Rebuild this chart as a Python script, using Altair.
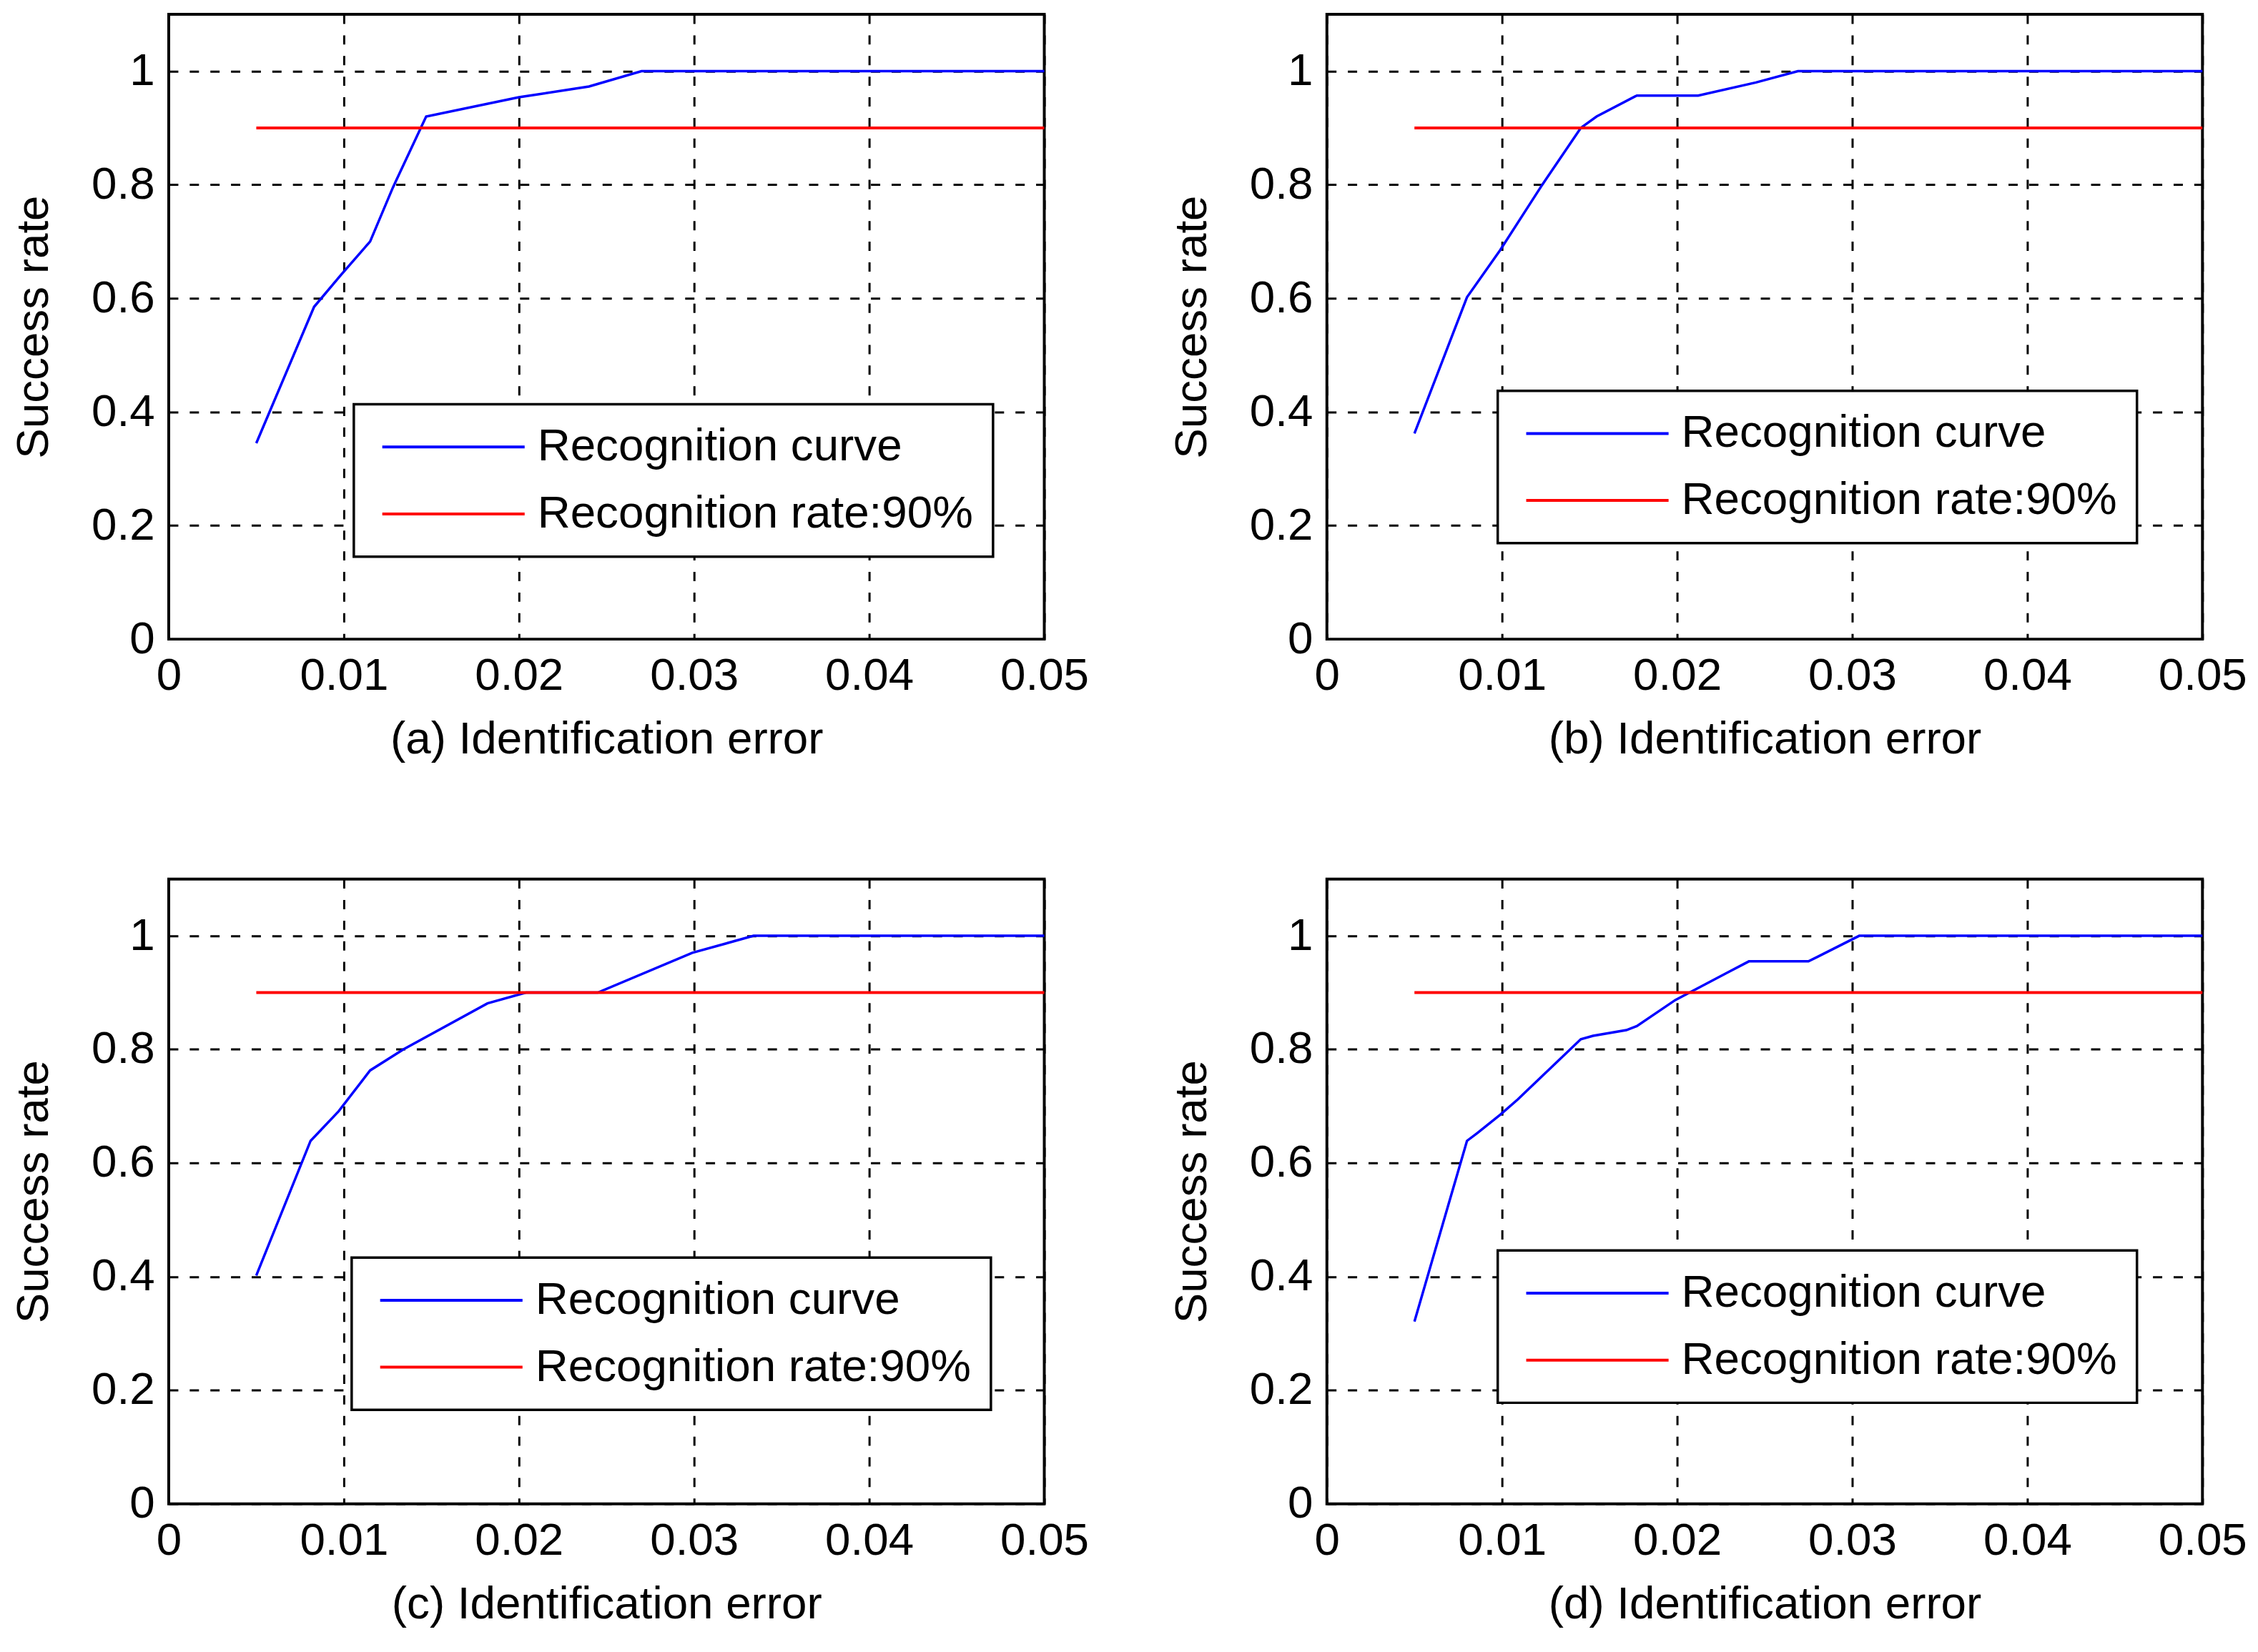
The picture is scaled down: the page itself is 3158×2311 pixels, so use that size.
import altair as alt
import pandas as pd

FONT = "Liberation Sans"

# ---- data ----
x_domain = [0, 0.05]
y_domain = [0, 1.1]
x_ticks = [0, 0.01, 0.02, 0.03, 0.04, 0.05]
y_ticks = [0, 0.2, 0.4, 0.6, 0.8, 1.0]
series_names = ["Recognition curve", "Recognition rate:90%"]
series_colors = ["#0000ff", "#ff0000"]
threshold_x = [0.005, 0.05]
threshold_y = [0.9, 0.9]
y_title = "Success rate"
panel_titles = [
    "(a) Identification error",
    "(b) Identification error",
    "(c) Identification error",
    "(d) Identification error",
]

a_x = [0.005, 0.0083, 0.0098, 0.0115, 0.0128, 0.0147, 0.020, 0.024, 0.027, 0.050]
a_y = [0.345, 0.585, 0.640, 0.700, 0.795, 0.920, 0.954, 0.973, 1.000, 1.000]

b_x = [0.005, 0.008, 0.0099, 0.0123, 0.0145, 0.0154, 0.0177, 0.0212, 0.0245, 0.0269, 0.050]
b_y = [0.362, 0.602, 0.685, 0.800, 0.900, 0.920, 0.957, 0.957, 0.980, 1.000, 1.000]

c_x = [0.005, 0.0081, 0.0097, 0.0115, 0.0134, 0.0182, 0.0204, 0.0245, 0.0299, 0.0334, 0.050]
c_y = [0.402, 0.639, 0.691, 0.763, 0.800, 0.881, 0.900, 0.900, 0.970, 1.000, 1.000]

d_x = [0.005, 0.008, 0.0086, 0.0099, 0.0109, 0.0145, 0.0152, 0.0171, 0.0177, 0.0199,
       0.0228, 0.0241, 0.0275, 0.0304, 0.050]
d_y = [0.321, 0.639, 0.653, 0.685, 0.712, 0.818, 0.824, 0.834, 0.841, 0.887,
       0.934, 0.955, 0.955, 1.000, 1.000]

# legend placement (pixels inside each plot area)
legend_pos = [(260, 548), (240, 529), (257, 532), (240, 522)]

W, H = 1230, 878


def panel(xs, ys, title, lx, ly):
    curve = pd.DataFrame({"x": xs, "y": ys, "series": series_names[0]})
    thr = pd.DataFrame({"x": threshold_x, "y": threshold_y, "series": series_names[1]})
    color = alt.Color(
        "series:N",
        scale=alt.Scale(domain=series_names, range=series_colors),
        legend=alt.Legend(title=None, orient="none", legendX=lx, legendY=ly),
    )
    xenc = alt.X(
        "x:Q",
        scale=alt.Scale(domain=x_domain, nice=False),
        axis=alt.Axis(values=x_ticks, format="~g", title=title, titleX=W / 2,
                      titleY=160, titleBaseline="alphabetic", labelFlush=False),
    )
    yenc = alt.Y(
        "y:Q",
        scale=alt.Scale(domain=y_domain, nice=False),
        axis=alt.Axis(values=y_ticks, format="~g", title=y_title, titleX=-189,
                      titleY=H / 2, titleBaseline="middle"),
    )
    l1 = alt.Chart(curve).mark_line(strokeWidth=3.5).encode(x=xenc, y=yenc, color=color)
    l2 = alt.Chart(thr).mark_line(strokeWidth=4).encode(x=xenc, y=yenc, color=color)
    return alt.layer(l1, l2).properties(width=W, height=H)


pa = panel(a_x, a_y, panel_titles[0], *legend_pos[0])
pb = panel(b_x, b_y, panel_titles[1], *legend_pos[1])
pc = panel(c_x, c_y, panel_titles[2], *legend_pos[2])
pd_ = panel(d_x, d_y, panel_titles[3], *legend_pos[3])

top = alt.hconcat(pa, pb, spacing=109).resolve_scale(color="independent").resolve_legend(color="independent")
bottom = alt.hconcat(pc, pd_, spacing=109).resolve_scale(color="independent").resolve_legend(color="independent")

chart = (
    alt.vconcat(top, bottom, spacing=160)
    .resolve_scale(color="independent")
    .resolve_legend(color="independent")
    .properties(padding={"left": 6, "top": 5, "right": 5, "bottom": 5}, background="white")
    .configure(font=FONT)
    .configure_view(stroke="black", strokeWidth=4)
    .configure_axis(
        domain=False, ticks=False, grid=True, gridColor="black", gridDash=[13, 16],
        gridWidth=3, gridOpacity=1,
        labelFont=FONT, labelFontSize=64, labelColor="black", labelPadding=20,
        titleFont=FONT, titleFontSize=64, titleFontWeight="normal", titleColor="black",
    )
    .configure_legend(
        labelFont=FONT, labelFontSize=64, labelColor="black", labelLimit=0,
        symbolType="M-1,0H9", symbolSize=1600, symbolStrokeWidth=4, labelOffset=166,
        rowPadding=30, padding=28, strokeColor="black", strokeWidth=3.5,
        fillColor="white", symbolOpacity=1,
    )
)

chart.save("out.html", embed_options={"renderer": "svg", "actions": False})
